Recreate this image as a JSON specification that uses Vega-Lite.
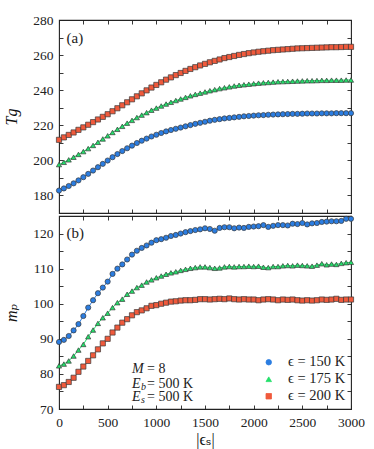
{
"$schema":"https://vega.github.io/schema/vega-lite/v6.json",
"background":"white",
"padding":{"left":3,"top":12,"right":20,"bottom":5},
"spacing":0,
"config":{
 "font":"Liberation Serif, Times New Roman, DejaVu Serif, serif",
 "concat":{"spacing":0},
 "view":{"stroke":"#222","strokeWidth":1.1},
 "axis":{"grid":false,"domain":false,"tickColor":"#222","tickSize":-4,"tickWidth":0.9,"labelFont":"Liberation Serif, Times New Roman, DejaVu Serif, serif","labelFontSize":13.5,"labelColor":"#222","labelPadding":10,"labelFlush":false,"labelOverlap":false,"titleFont":"Liberation Serif, Times New Roman, DejaVu Serif, serif","titleFontWeight":"normal","titleColor":"#111","titleFontSize":16},
 "legend":{"labelFont":"Liberation Serif, Times New Roman, DejaVu Serif, serif"},
 "text":{"font":"Liberation Serif, Times New Roman, DejaVu Serif, serif","fontSize":13.5,"color":"#222"}
},
"resolve":{"scale":{"color":"independent","shape":"independent"},"legend":{"color":"independent","shape":"independent"}},
"datasets":{"d":[
{"x":0,"s":"150","tg":182.8,"mp":89.1},{"x":50,"s":"150","tg":184.0,"mp":89.7},{"x":100,"s":"150","tg":185.4,"mp":90.8},{"x":150,"s":"150","tg":186.9,"mp":92.4},{"x":200,"s":"150","tg":188.6,"mp":94.2},{"x":250,"s":"150","tg":190.4,"mp":96.5},{"x":300,"s":"150","tg":192.3,"mp":98.9},{"x":350,"s":"150","tg":194.2,"mp":101.0},{"x":400,"s":"150","tg":196.1,"mp":103.0},{"x":450,"s":"150","tg":198.0,"mp":104.6},{"x":500,"s":"150","tg":199.9,"mp":106.3},{"x":550,"s":"150","tg":201.8,"mp":108.5},{"x":600,"s":"150","tg":203.6,"mp":110.0},{"x":650,"s":"150","tg":205.3,"mp":111.2},{"x":700,"s":"150","tg":206.9,"mp":112.6},{"x":750,"s":"150","tg":208.4,"mp":114.0},{"x":800,"s":"150","tg":209.9,"mp":115.1},{"x":850,"s":"150","tg":211.2,"mp":115.9},{"x":900,"s":"150","tg":212.4,"mp":116.6},{"x":950,"s":"150","tg":213.6,"mp":117.4},{"x":1000,"s":"150","tg":214.6,"mp":118.1},{"x":1050,"s":"150","tg":215.6,"mp":118.4},{"x":1100,"s":"150","tg":216.5,"mp":118.8},{"x":1150,"s":"150","tg":217.3,"mp":119.3},{"x":1200,"s":"150","tg":218.0,"mp":119.6},{"x":1250,"s":"150","tg":218.7,"mp":120.0},{"x":1300,"s":"150","tg":219.4,"mp":120.4},{"x":1350,"s":"150","tg":220.1,"mp":120.7},{"x":1400,"s":"150","tg":220.8,"mp":121.0},{"x":1450,"s":"150","tg":221.4,"mp":121.2},{"x":1500,"s":"150","tg":222.0,"mp":121.5},{"x":1550,"s":"150","tg":222.6,"mp":121.3},{"x":1600,"s":"150","tg":223.1,"mp":120.8},{"x":1650,"s":"150","tg":223.5,"mp":121.6},{"x":1700,"s":"150","tg":223.9,"mp":121.8},{"x":1750,"s":"150","tg":224.2,"mp":121.8},{"x":1800,"s":"150","tg":224.5,"mp":121.5},{"x":1850,"s":"150","tg":224.8,"mp":121.7},{"x":1900,"s":"150","tg":225.1,"mp":121.6},{"x":1950,"s":"150","tg":225.3,"mp":121.9},{"x":2000,"s":"150","tg":225.5,"mp":122.0},{"x":2050,"s":"150","tg":225.7,"mp":122.1},{"x":2100,"s":"150","tg":225.8,"mp":122.4},{"x":2150,"s":"150","tg":226.0,"mp":121.9},{"x":2200,"s":"150","tg":226.1,"mp":122.2},{"x":2250,"s":"150","tg":226.2,"mp":122.4},{"x":2300,"s":"150","tg":226.3,"mp":122.4},{"x":2350,"s":"150","tg":226.4,"mp":122.3},{"x":2400,"s":"150","tg":226.5,"mp":122.8},{"x":2450,"s":"150","tg":226.5,"mp":122.7},{"x":2500,"s":"150","tg":226.6,"mp":123.0},{"x":2550,"s":"150","tg":226.7,"mp":122.6},{"x":2600,"s":"150","tg":226.7,"mp":122.9},{"x":2650,"s":"150","tg":226.7,"mp":123.0},{"x":2700,"s":"150","tg":226.8,"mp":123.3},{"x":2750,"s":"150","tg":226.8,"mp":123.4},{"x":2800,"s":"150","tg":226.8,"mp":123.5},{"x":2850,"s":"150","tg":226.9,"mp":123.5},{"x":2900,"s":"150","tg":226.9,"mp":123.6},{"x":2950,"s":"150","tg":226.9,"mp":124.2},{"x":3000,"s":"150","tg":226.9,"mp":124.2},
{"x":0,"s":"175","tg":197.6,"mp":82.3},{"x":50,"s":"175","tg":198.9,"mp":82.8},{"x":100,"s":"175","tg":200.3,"mp":83.7},{"x":150,"s":"175","tg":201.8,"mp":85.1},{"x":200,"s":"175","tg":203.4,"mp":86.8},{"x":250,"s":"175","tg":205.0,"mp":88.4},{"x":300,"s":"175","tg":206.7,"mp":90.6},{"x":350,"s":"175","tg":208.5,"mp":92.5},{"x":400,"s":"175","tg":210.3,"mp":94.4},{"x":450,"s":"175","tg":212.2,"mp":96.0},{"x":500,"s":"175","tg":214.0,"mp":97.3},{"x":550,"s":"175","tg":215.9,"mp":98.9},{"x":600,"s":"175","tg":217.7,"mp":100.3},{"x":650,"s":"175","tg":219.4,"mp":101.3},{"x":700,"s":"175","tg":221.2,"mp":102.7},{"x":750,"s":"175","tg":222.8,"mp":103.6},{"x":800,"s":"175","tg":224.4,"mp":104.6},{"x":850,"s":"175","tg":225.8,"mp":105.3},{"x":900,"s":"175","tg":227.2,"mp":106.2},{"x":950,"s":"175","tg":228.6,"mp":106.8},{"x":1000,"s":"175","tg":229.8,"mp":107.4},{"x":1050,"s":"175","tg":231.0,"mp":107.9},{"x":1100,"s":"175","tg":232.1,"mp":108.4},{"x":1150,"s":"175","tg":233.1,"mp":108.8},{"x":1200,"s":"175","tg":234.1,"mp":109.1},{"x":1250,"s":"175","tg":235.0,"mp":109.5},{"x":1300,"s":"175","tg":235.9,"mp":109.8},{"x":1350,"s":"175","tg":236.8,"mp":110.1},{"x":1400,"s":"175","tg":237.6,"mp":110.3},{"x":1450,"s":"175","tg":238.3,"mp":110.5},{"x":1500,"s":"175","tg":239.0,"mp":110.5},{"x":1550,"s":"175","tg":239.7,"mp":110.3},{"x":1600,"s":"175","tg":240.3,"mp":110.1},{"x":1650,"s":"175","tg":240.9,"mp":110.2},{"x":1700,"s":"175","tg":241.4,"mp":110.5},{"x":1750,"s":"175","tg":241.9,"mp":110.6},{"x":1800,"s":"175","tg":242.4,"mp":110.5},{"x":1850,"s":"175","tg":242.8,"mp":110.6},{"x":1900,"s":"175","tg":243.1,"mp":110.6},{"x":1950,"s":"175","tg":243.4,"mp":110.7},{"x":2000,"s":"175","tg":243.7,"mp":110.6},{"x":2050,"s":"175","tg":244.0,"mp":110.7},{"x":2100,"s":"175","tg":244.2,"mp":110.4},{"x":2150,"s":"175","tg":244.4,"mp":110.3},{"x":2200,"s":"175","tg":244.6,"mp":110.6},{"x":2250,"s":"175","tg":244.8,"mp":110.6},{"x":2300,"s":"175","tg":244.9,"mp":110.8},{"x":2350,"s":"175","tg":245.0,"mp":110.9},{"x":2400,"s":"175","tg":245.1,"mp":110.8},{"x":2450,"s":"175","tg":245.2,"mp":111.0},{"x":2500,"s":"175","tg":245.3,"mp":110.9},{"x":2550,"s":"175","tg":245.4,"mp":110.8},{"x":2600,"s":"175","tg":245.4,"mp":110.7},{"x":2650,"s":"175","tg":245.5,"mp":111.0},{"x":2700,"s":"175","tg":245.6,"mp":111.4},{"x":2750,"s":"175","tg":245.6,"mp":111.1},{"x":2800,"s":"175","tg":245.7,"mp":111.3},{"x":2850,"s":"175","tg":245.7,"mp":111.2},{"x":2900,"s":"175","tg":245.7,"mp":111.5},{"x":2950,"s":"175","tg":245.8,"mp":111.7},{"x":3000,"s":"175","tg":245.8,"mp":111.8},
{"x":0,"s":"200","tg":211.7,"mp":76.3},{"x":50,"s":"200","tg":213.1,"mp":76.8},{"x":100,"s":"200","tg":214.5,"mp":77.7},{"x":150,"s":"200","tg":215.9,"mp":78.9},{"x":200,"s":"200","tg":217.4,"mp":80.6},{"x":250,"s":"200","tg":218.8,"mp":82.1},{"x":300,"s":"200","tg":220.3,"mp":83.7},{"x":350,"s":"200","tg":221.8,"mp":85.3},{"x":400,"s":"200","tg":223.3,"mp":87.0},{"x":450,"s":"200","tg":224.8,"mp":88.7},{"x":500,"s":"200","tg":226.3,"mp":90.0},{"x":550,"s":"200","tg":228.0,"mp":91.8},{"x":600,"s":"200","tg":229.7,"mp":93.2},{"x":650,"s":"200","tg":231.4,"mp":94.6},{"x":700,"s":"200","tg":233.1,"mp":95.6},{"x":750,"s":"200","tg":234.8,"mp":96.7},{"x":800,"s":"200","tg":236.5,"mp":97.6},{"x":850,"s":"200","tg":238.2,"mp":98.1},{"x":900,"s":"200","tg":239.9,"mp":98.7},{"x":950,"s":"200","tg":241.5,"mp":99.4},{"x":1000,"s":"200","tg":243.0,"mp":99.6},{"x":1050,"s":"200","tg":244.5,"mp":100.0},{"x":1100,"s":"200","tg":246.0,"mp":100.3},{"x":1150,"s":"200","tg":247.3,"mp":100.6},{"x":1200,"s":"200","tg":248.6,"mp":100.7},{"x":1250,"s":"200","tg":249.8,"mp":100.9},{"x":1300,"s":"200","tg":251.0,"mp":101.0},{"x":1350,"s":"200","tg":252.1,"mp":101.0},{"x":1400,"s":"200","tg":253.1,"mp":101.1},{"x":1450,"s":"200","tg":254.1,"mp":101.3},{"x":1500,"s":"200","tg":255.0,"mp":101.3},{"x":1550,"s":"200","tg":255.9,"mp":101.2},{"x":1600,"s":"200","tg":256.7,"mp":101.3},{"x":1650,"s":"200","tg":257.5,"mp":101.4},{"x":1700,"s":"200","tg":258.3,"mp":101.3},{"x":1750,"s":"200","tg":258.9,"mp":101.5},{"x":1800,"s":"200","tg":259.5,"mp":101.3},{"x":1850,"s":"200","tg":260.1,"mp":101.2},{"x":1900,"s":"200","tg":260.6,"mp":101.3},{"x":1950,"s":"200","tg":261.1,"mp":101.2},{"x":2000,"s":"200","tg":261.5,"mp":101.2},{"x":2050,"s":"200","tg":261.9,"mp":101.0},{"x":2100,"s":"200","tg":262.2,"mp":101.2},{"x":2150,"s":"200","tg":262.5,"mp":101.3},{"x":2200,"s":"200","tg":262.8,"mp":101.2},{"x":2250,"s":"200","tg":263.0,"mp":101.0},{"x":2300,"s":"200","tg":263.2,"mp":101.2},{"x":2350,"s":"200","tg":263.4,"mp":101.1},{"x":2400,"s":"200","tg":263.6,"mp":101.2},{"x":2450,"s":"200","tg":263.8,"mp":101.0},{"x":2500,"s":"200","tg":263.9,"mp":100.9},{"x":2550,"s":"200","tg":264.0,"mp":101.0},{"x":2600,"s":"200","tg":264.1,"mp":100.9},{"x":2650,"s":"200","tg":264.2,"mp":101.0},{"x":2700,"s":"200","tg":264.3,"mp":101.2},{"x":2750,"s":"200","tg":264.4,"mp":101.1},{"x":2800,"s":"200","tg":264.5,"mp":101.2},{"x":2850,"s":"200","tg":264.5,"mp":101.4},{"x":2900,"s":"200","tg":264.6,"mp":101.1},{"x":2950,"s":"200","tg":264.7,"mp":101.2},{"x":3000,"s":"200","tg":264.7,"mp":101.2}
]},
"vconcat":[
{
 "width":292,"height":193,
 "resolve":{"axis":{"x":"independent","y":"independent"}},
 "layer":[
  {"data":{"name":"d"},"mark":{"type":"line","strokeWidth":1},
   "encoding":{
    "x":{"field":"x","type":"quantitative","scale":{"domain":[0,3000],"nice":false,"zero":false},"axis":{"orient":"bottom","values":[0,250,500,750,1000,1250,1500,1750,2000,2250,2500,2750,3000],"labels":false,"title":null,"labelPadding":0,"minExtent":0,"maxExtent":0}},
    "y":{"field":"tg","type":"quantitative","scale":{"domain":[170,280],"nice":false,"zero":false},"axis":{"orient":"left","values":[180,190,200,210,220,230,240,250,260,270,280],"labelExpr":"datum.value % 20 == 0 ? datum.label : ''","title":"Tg","titleFontStyle":"italic","titlePadding":13}},
    "color":{"field":"s","type":"nominal","scale":{"domain":["150","175","200"],"range":["#2b7de1","#22e06a","#f05a3c"]},"legend":null}
   }},
  {"data":{"name":"d"},"mark":{"type":"point","filled":true,"opacity":1,"size":27,"stroke":"#3a3a3a","strokeWidth":0.7},
   "encoding":{
    "x":{"field":"x","type":"quantitative","scale":{"domain":[0,3000],"nice":false,"zero":false},"axis":{"orient":"top","values":[0,250,500,750,1000,1250,1500,1750,2000,2250,2500,2750,3000],"labels":false,"title":null,"labelPadding":0,"minExtent":0,"maxExtent":0}},
    "y":{"field":"tg","type":"quantitative","scale":{"domain":[170,280],"nice":false,"zero":false},"axis":{"orient":"right","values":[170,180,190,200,210,220,230,240,250,260,270,280],"labels":false,"title":null,"labelPadding":0,"minExtent":0,"maxExtent":0}},
    "color":{"field":"s","type":"nominal","scale":{"domain":["150","175","200"],"range":["#2b7de1","#22e06a","#f05a3c"]},"legend":null},
    "shape":{"field":"s","type":"nominal","scale":{"domain":["150","175","200"],"range":["circle","triangle-up","square"]},"legend":null}
   }},
  {"data":{"values":[{"px":77,"py":269.7,"t":"(a)"}]},"mark":{"type":"text","align":"left","baseline":"middle","fontSize":15},
   "encoding":{
    "x":{"field":"px","type":"quantitative","scale":{"domain":[0,3000],"nice":false,"zero":false},"axis":null},
    "y":{"field":"py","type":"quantitative","scale":{"domain":[170,280],"nice":false,"zero":false},"axis":null},
    "text":{"field":"t"}
   }}
 ]
},
{
 "width":292,"height":193,
 "resolve":{"axis":{"x":"independent","y":"independent"}},
 "layer":[
  {"data":{"name":"d"},"mark":{"type":"line","strokeWidth":1},
   "encoding":{
    "x":{"field":"x","type":"quantitative","scale":{"domain":[0,3000],"nice":false,"zero":false},"axis":{"orient":"bottom","values":[0,250,500,750,1000,1250,1500,1750,2000,2250,2500,2750,3000],"labelExpr":"datum.value % 500 == 0 ? datum.label : ''","format":"d","title":"|ϵₛ|","titlePadding":3}},
    "y":{"field":"mp","type":"quantitative","scale":{"domain":[70,125],"nice":false,"zero":false},"axis":{"orient":"left","values":[70,75,80,85,90,95,100,105,110,115,120],"labelExpr":"datum.value % 10 == 0 ? datum.label : ''","title":"mₚ","titleFontStyle":"italic","titlePadding":13}},
    "color":{"field":"s","type":"nominal","scale":{"domain":["150","175","200"],"range":["#2b7de1","#22e06a","#f05a3c"]},
      "legend":{"orient":"none","legendX":202.5,"legendY":139,"title":null,"padding":0,"labelExpr":"'ϵ = ' + datum.label + ' K'","symbolSize":30,"labelOffset":12,"rowPadding":2,"labelFontSize":14.5,"labelColor":"#222","symbolStrokeWidth":0.8,"symbolOpacity":1}}
   }},
  {"data":{"name":"d"},"mark":{"type":"point","filled":true,"opacity":1,"size":27,"stroke":"#3a3a3a","strokeWidth":0.7},
   "encoding":{
    "x":{"field":"x","type":"quantitative","scale":{"domain":[0,3000],"nice":false,"zero":false},"axis":{"orient":"top","values":[0,250,500,750,1000,1250,1500,1750,2000,2250,2500,2750,3000],"labels":false,"title":null,"labelPadding":0,"minExtent":0,"maxExtent":0}},
    "y":{"field":"mp","type":"quantitative","scale":{"domain":[70,125],"nice":false,"zero":false},"axis":{"orient":"right","values":[70,75,80,85,90,95,100,105,110,115,120,125],"labels":false,"title":null,"labelPadding":0,"minExtent":0,"maxExtent":0}},
    "color":{"field":"s","type":"nominal","scale":{"domain":["150","175","200"],"range":["#2b7de1","#22e06a","#f05a3c"]},
      "legend":{"orient":"none","legendX":202.5,"legendY":139,"title":null,"padding":0,"labelExpr":"'ϵ = ' + datum.label + ' K'","symbolSize":30,"labelOffset":12,"rowPadding":2,"labelFontSize":14.5,"labelColor":"#222","symbolStrokeWidth":0.8,"symbolOpacity":1}},
    "shape":{"field":"s","type":"nominal","scale":{"domain":["150","175","200"],"range":["circle","triangle-up","square"]},
      "legend":{"orient":"none","legendX":202.5,"legendY":139,"title":null,"padding":0,"labelExpr":"'ϵ = ' + datum.label + ' K'","symbolSize":30,"labelOffset":12,"rowPadding":2,"labelFontSize":14.5,"labelColor":"#222","symbolStrokeWidth":0.8,"symbolOpacity":1}}
   }},
  {"data":{"values":[{"px":77,"py":120.2,"t":"(b)"}]},"mark":{"type":"text","align":"left","baseline":"middle","fontSize":15},
   "encoding":{
    "x":{"field":"px","type":"quantitative","scale":{"domain":[0,3000],"nice":false,"zero":false},"axis":null},
    "y":{"field":"py","type":"quantitative","scale":{"domain":[70,125],"nice":false,"zero":false},"axis":null},
    "text":{"field":"t"}
   }},
  {"data":{"values":[{"px":750,"py":81.4,"a":"M","b":"","c":"= 8"},{"px":750,"py":77.1,"a":"E","b":"b","c":"= 500 K"},{"px":750,"py":73.4,"a":"E","b":"s","c":"= 500 K"}]},
   "layer":[
    {"mark":{"type":"text","align":"left","baseline":"middle","fontSize":14,"fontStyle":"italic"},"encoding":{"text":{"field":"a"}}},
    {"mark":{"type":"text","align":"left","baseline":"middle","fontSize":10,"fontStyle":"italic","dx":9,"dy":3},"encoding":{"text":{"field":"b"}}},
    {"mark":{"type":"text","align":"left","baseline":"middle","fontSize":14,"dx":15},"encoding":{"text":{"field":"c"}}}
   ],
   "encoding":{
    "x":{"field":"px","type":"quantitative","scale":{"domain":[0,3000],"nice":false,"zero":false},"axis":null},
    "y":{"field":"py","type":"quantitative","scale":{"domain":[70,125],"nice":false,"zero":false},"axis":null}
   }}
 ]
}
]
}
